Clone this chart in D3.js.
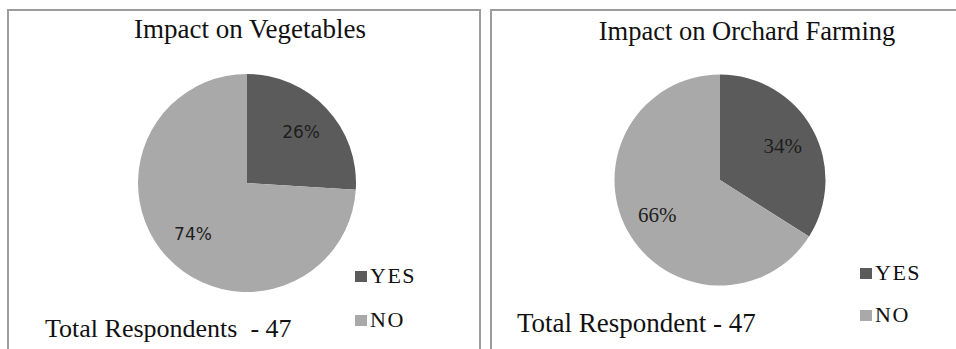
<!DOCTYPE html>
<html>
<head>
<meta charset="utf-8">
<script src="https://cdn.jsdelivr.net/npm/d3@7"></script>
<style>
  html, body { margin: 0; padding: 0; background: #fff; }
  svg { display: block; }
  .serif { font-family: "Liberation Serif", "Times New Roman", Times, "DejaVu Serif", serif; }
  .sans { font-family: "DejaVu Sans", Verdana, sans-serif; }
</style>
</head>
<body>
<svg id="chart" width="956" height="349"></svg>
<script>
// Survey results: share of respondents reporting an impact
const titles = ["Impact on Vegetables", "Impact on Orchard Farming"];
const categories = ["YES", "NO"];
const yesValues = [26, 34];
const noValues = [74, 66];
const respondentLabels = ["Total Respondents  - 47", "Total Respondent - 47"];

const colors = d3.scaleOrdinal().domain(categories).range(["#5b5b5b", "#a9a9a9"]);

// Layout for each panel
const panels = [
  { x: 8, y: 10, w: 472, h: 360, cx: 247, cy: 183, r: 109, titleX: 250, titleY: 38, titleSize: 27,
    labelClass: "sans", labelSize: 17,
    legX: 355, legY: [271, 315], totalX: 45, totalY: 337, totalSize: 26 },
  { x: 491, y: 10, w: 480, h: 360, cx: 720, cy: 180, r: 105.5, titleX: 747, titleY: 40, titleSize: 26.5,
    labelClass: "serif", labelSize: 21,
    legX: 860, legY: [268, 310], totalX: 517, totalY: 332, totalSize: 27 }
];

const svg = d3.select("#chart");

const pie = d3.pie().sort(null).value(d => d.value);

panels.forEach((p, i) => {
  const data = [
    { cat: categories[0], value: yesValues[i] },
    { cat: categories[1], value: noValues[i] }
  ];

  // Frame
  svg.append("rect")
    .attr("x", p.x).attr("y", p.y).attr("width", p.w).attr("height", p.h)
    .attr("fill", "#fff").attr("stroke", "#9c9c9c").attr("stroke-width", 2);

  // Title
  svg.append("text")
    .attr("class", "serif")
    .attr("x", p.titleX).attr("y", p.titleY)
    .attr("text-anchor", "middle")
    .style("font-size", p.titleSize + "px")
    .attr("fill", "#111")
    .text(titles[i]);

  const g = svg.append("g").attr("transform", `translate(${p.cx},${p.cy})`);
  const arc = d3.arc().innerRadius(0).outerRadius(p.r);
  const labelArc = d3.arc().innerRadius(p.r * 0.68).outerRadius(p.r * 0.68);
  const arcs = pie(data);

  g.selectAll("path").data(arcs).join("path")
    .attr("d", arc)
    .attr("fill", d => colors(d.data.cat));

  g.selectAll("text").data(arcs).join("text")
    .attr("class", p.labelClass)
    .attr("transform", d => `translate(${labelArc.centroid(d)})`)
    .attr("text-anchor", "middle")
    .attr("dy", "0.35em")
    .style("font-size", p.labelSize + "px")
    .attr("fill", "#1e1e1e")
    .text(d => d.data.value + "%");

  // Legend
  categories.forEach((c, k) => {
    svg.append("rect")
      .attr("x", p.legX).attr("y", p.legY[k])
      .attr("width", 12).attr("height", 11)
      .attr("fill", colors(c));
    svg.append("text")
      .attr("class", "serif")
      .attr("x", p.legX + 15).attr("y", p.legY[k] + 12)
      .style("font-size", "22px")
      .style("letter-spacing", "1.5px")
      .attr("fill", "#111")
      .text(c);
  });

  // Respondent count
  svg.append("text")
    .attr("class", "serif")
    .attr("x", p.totalX).attr("y", p.totalY)
    .style("font-size", p.totalSize + "px")
    .style("white-space", "pre")
    .attr("fill", "#111")
    .text(respondentLabels[i]);
});
</script>
</body>
</html>
